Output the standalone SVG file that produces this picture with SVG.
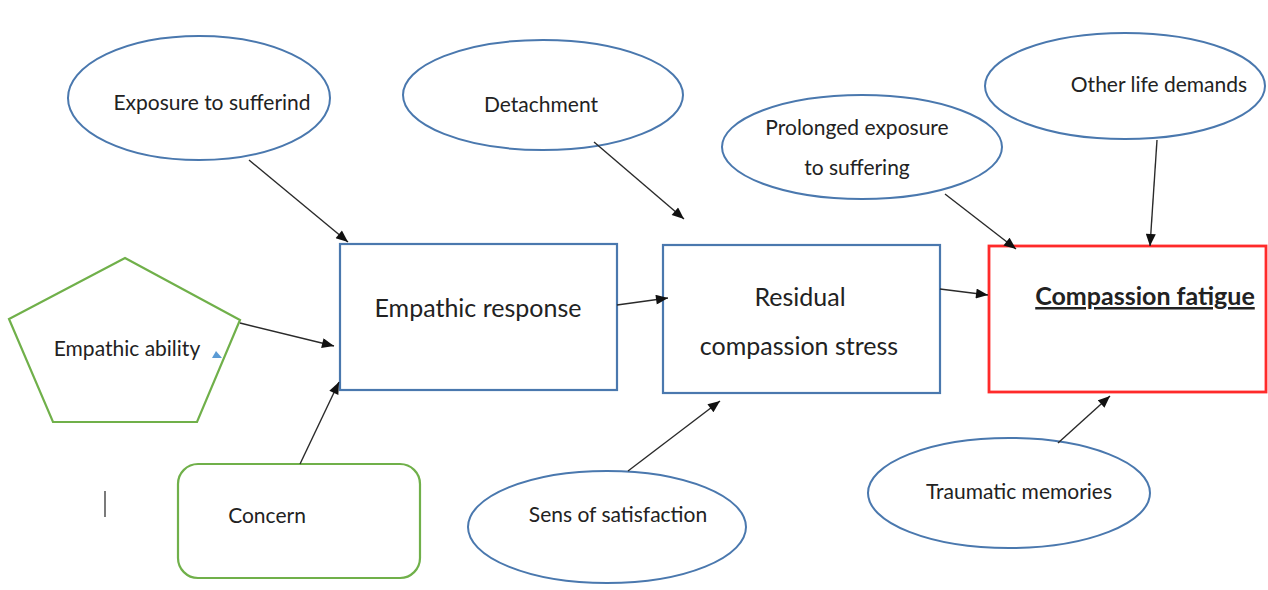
<svg xmlns="http://www.w3.org/2000/svg" width="1268" height="590" viewBox="0 0 1268 590">
<style>
.ell{fill:#fff;stroke:#4a78ae;stroke-width:2}
.box{fill:#fff;stroke:#4a78ae;stroke-width:2.2}
.grn{fill:#fff;stroke:#70b04a;stroke-width:2.2}
.red{fill:#fff;stroke:#ff2a2a;stroke-width:2.8}
.t{font-family:Lato,"Open Sans",sans-serif;font-size:21px;fill:#222;text-anchor:middle}
.tb{font-family:Lato,"Open Sans",sans-serif;font-size:25px;fill:#222;text-anchor:middle}
.con line{stroke:#2a2a2a;stroke-width:1.4;marker-end:url(#ah)}
</style>
<defs>
<marker id="ah" viewBox="0 0 12 10" refX="12" refY="5" markerWidth="13" markerHeight="10" markerUnits="userSpaceOnUse" orient="auto">
<path d="M0,0 L12,5 L0,10 z" fill="#111"/>
</marker>
</defs>
<rect width="1268" height="590" fill="#fff"/>
<g id="n-exposure"><ellipse class="ell" cx="199" cy="98" rx="131" ry="62"/><text class="t" x="212" y="110" font-size="20.3">Exposure to sufferind</text></g>
<g id="n-detachment"><ellipse class="ell" cx="543" cy="95" rx="140" ry="55"/><text class="t" x="541" y="112">Detachment</text></g>
<g id="n-prolonged"><ellipse class="ell" cx="862" cy="147" rx="140" ry="52"/><text class="t" x="857" y="135">Prolonged exposure</text><text class="t" x="857" y="175">to suffering</text></g>
<g id="n-other"><ellipse class="ell" cx="1125" cy="86" rx="140" ry="53"/><text class="t" x="1159" y="92">Other life demands</text></g>
<g id="n-ability"><polygon class="grn" points="125,258 240,320 197,422 53,422 9,319"/><text class="t" x="127" y="356" font-size="23">Empathic ability</text><polygon points="212,358 222,358 216,351" fill="#5b9bd5"/></g>
<g id="n-concern"><rect class="grn" x="178" y="464" width="242" height="114" rx="20"/><text class="t" x="267" y="523" font-size="22">Concern</text></g>
<line x1="105" y1="491" x2="105" y2="517" stroke="#333" stroke-width="1.3"/>
<g id="n-empathic"><rect class="box" x="340" y="244" width="277" height="146"/><text class="tb" x="478" y="317">Empathic response</text></g>
<g id="n-residual"><rect class="box" x="663" y="245" width="277" height="148"/><text class="tb" x="800" y="306">Residual</text><text class="tb" x="799" y="355">compassion stress</text></g>
<g id="n-fatigue"><rect class="red" x="989" y="246" width="277" height="146"/><text class="tb" x="1145" y="305" font-weight="bold" text-decoration="underline">Compassion fatigue</text></g>
<g id="n-satisfaction"><ellipse class="ell" cx="607" cy="527" rx="139" ry="56"/><text class="t" x="618" y="522" font-size="22.5">Sens of satisfaction</text></g>
<g id="n-traumatic"><ellipse class="ell" cx="1009" cy="493" rx="141" ry="55"/><text class="t" x="1019" y="499" font-size="22.5">Traumatic memories</text></g>
<g class="con" id="connectors">
<line x1="249" y1="160" x2="348" y2="242"/>
<line x1="594" y1="142" x2="684" y2="219"/>
<line x1="240" y1="323" x2="334" y2="346"/>
<line x1="300" y1="464" x2="339" y2="382"/>
<line x1="617" y1="305" x2="668" y2="298"/>
<line x1="628" y1="471" x2="720" y2="401"/>
<line x1="940" y1="289" x2="988" y2="295"/>
<line x1="945" y1="194" x2="1016" y2="249"/>
<line x1="1157" y1="140" x2="1150" y2="246"/>
<line x1="1058" y1="443" x2="1110" y2="396"/>
</g>
</svg>
